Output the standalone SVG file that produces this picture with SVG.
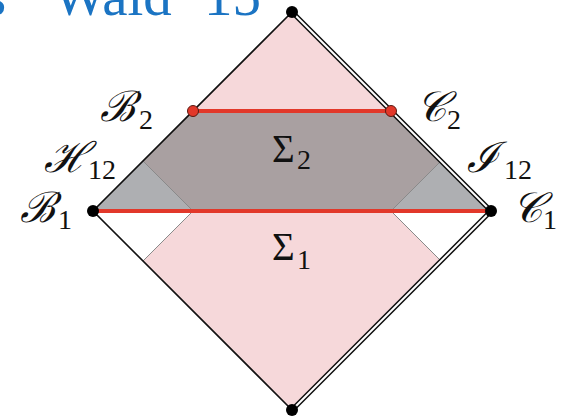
<svg xmlns="http://www.w3.org/2000/svg" width="566" height="420" viewBox="0 0 566 420">
<style>
.lbl{font-family:"DejaVu Serif","Liberation Serif",serif;font-size:42px;fill:#111;font-style:italic}
.sym{font-family:"Liberation Serif","Times New Roman",serif;font-size:39px;fill:#111}
.sub{font-family:"Liberation Serif","Times New Roman",serif;font-size:28px;fill:#111}
.edge{stroke:#111;stroke-width:1.6;fill:none}
.dbl-o{stroke:#111;stroke-width:5;fill:none}
.dbl-i{stroke:#fff;stroke-width:2;fill:none}
.red{stroke:#e2382a;stroke-width:4;fill:none}
.bdot{fill:#000}
.rdot{fill:#e2382a;stroke:#5a1a12;stroke-width:1}
.faint{stroke:#8a8a8a;stroke-width:1;fill:none}
</style>
<rect width="566" height="420" fill="#fff"/>
<g id="title">
<text font-family="Liberation Serif, Times New Roman, serif" font-size="57" fill="#1b74c3"><tspan x="-16" y="15">s</tspan><tspan x="53" y="15">Wald</tspan><tspan x="204" y="15">15</tspan></text>
</g>
<g id="regions">
<polygon points="292,12 143,161 193,211 143,261 292,410 441,261 391,211 441,161" fill="#f6d8da"/>
<polygon points="193,111 391,111 441,161 391,211 193,211 143,161" fill="#a9a0a1"/>
<polygon points="93,211 143,161 193,211" fill="#aeafb2"/>
<polygon points="491,211 441,161 391,211" fill="#aeafb2"/>
<polyline class="faint" points="143,161 193,211 143,261"/>
<polyline class="faint" points="441,161 391,211 441,261"/>
</g>
<g id="boundary">
<polyline class="edge" points="292,12 93,211 292,410"/>
<polyline class="dbl-o" points="292,12 491,211 292,410"/>
<polyline class="dbl-i" points="292,12 491,211 292,410"/>
</g>
<g id="slices">
<line class="red" x1="93" y1="211" x2="491" y2="211"/>
<line class="red" x1="193" y1="111" x2="391" y2="111"/>
</g>
<g id="points">
<circle class="bdot" cx="292" cy="12" r="6"/>
<circle class="bdot" cx="93" cy="211" r="6"/>
<circle class="bdot" cx="491" cy="211" r="6"/>
<circle class="bdot" cx="292" cy="410" r="6"/>
<circle class="rdot" cx="193" cy="111" r="5.5"/>
<circle class="rdot" cx="391" cy="111" r="5.5"/>
</g>
<g id="labels">
<g id="B2"><text class="lbl" x="100" y="121">ℬ</text><text class="sub" x="139" y="129">2</text></g>
<g id="C2"><text class="lbl" x="416" y="121">𝒞</text><text class="sub" x="447" y="129">2</text></g>
<g id="H12"><text class="lbl" x="44" y="172">ℋ</text><text class="sub" x="88" y="179">12</text></g>
<g id="I12"><text class="lbl" x="467" y="172">ℐ</text><text class="sub" x="504" y="179">12</text></g>
<g id="B1"><text class="lbl" x="20" y="222">ℬ</text><text class="sub" x="58" y="229">1</text></g>
<g id="C1"><text class="lbl" x="512" y="222">𝒞</text><text class="sub" x="543" y="229">1</text></g>
<g id="S2"><text class="sym" x="272" y="162">Σ</text><text class="sub" x="297" y="169">2</text></g>
<g id="S1"><text class="sym" x="272" y="260">Σ</text><text class="sub" x="297" y="269">1</text></g>
</g>
</svg>
